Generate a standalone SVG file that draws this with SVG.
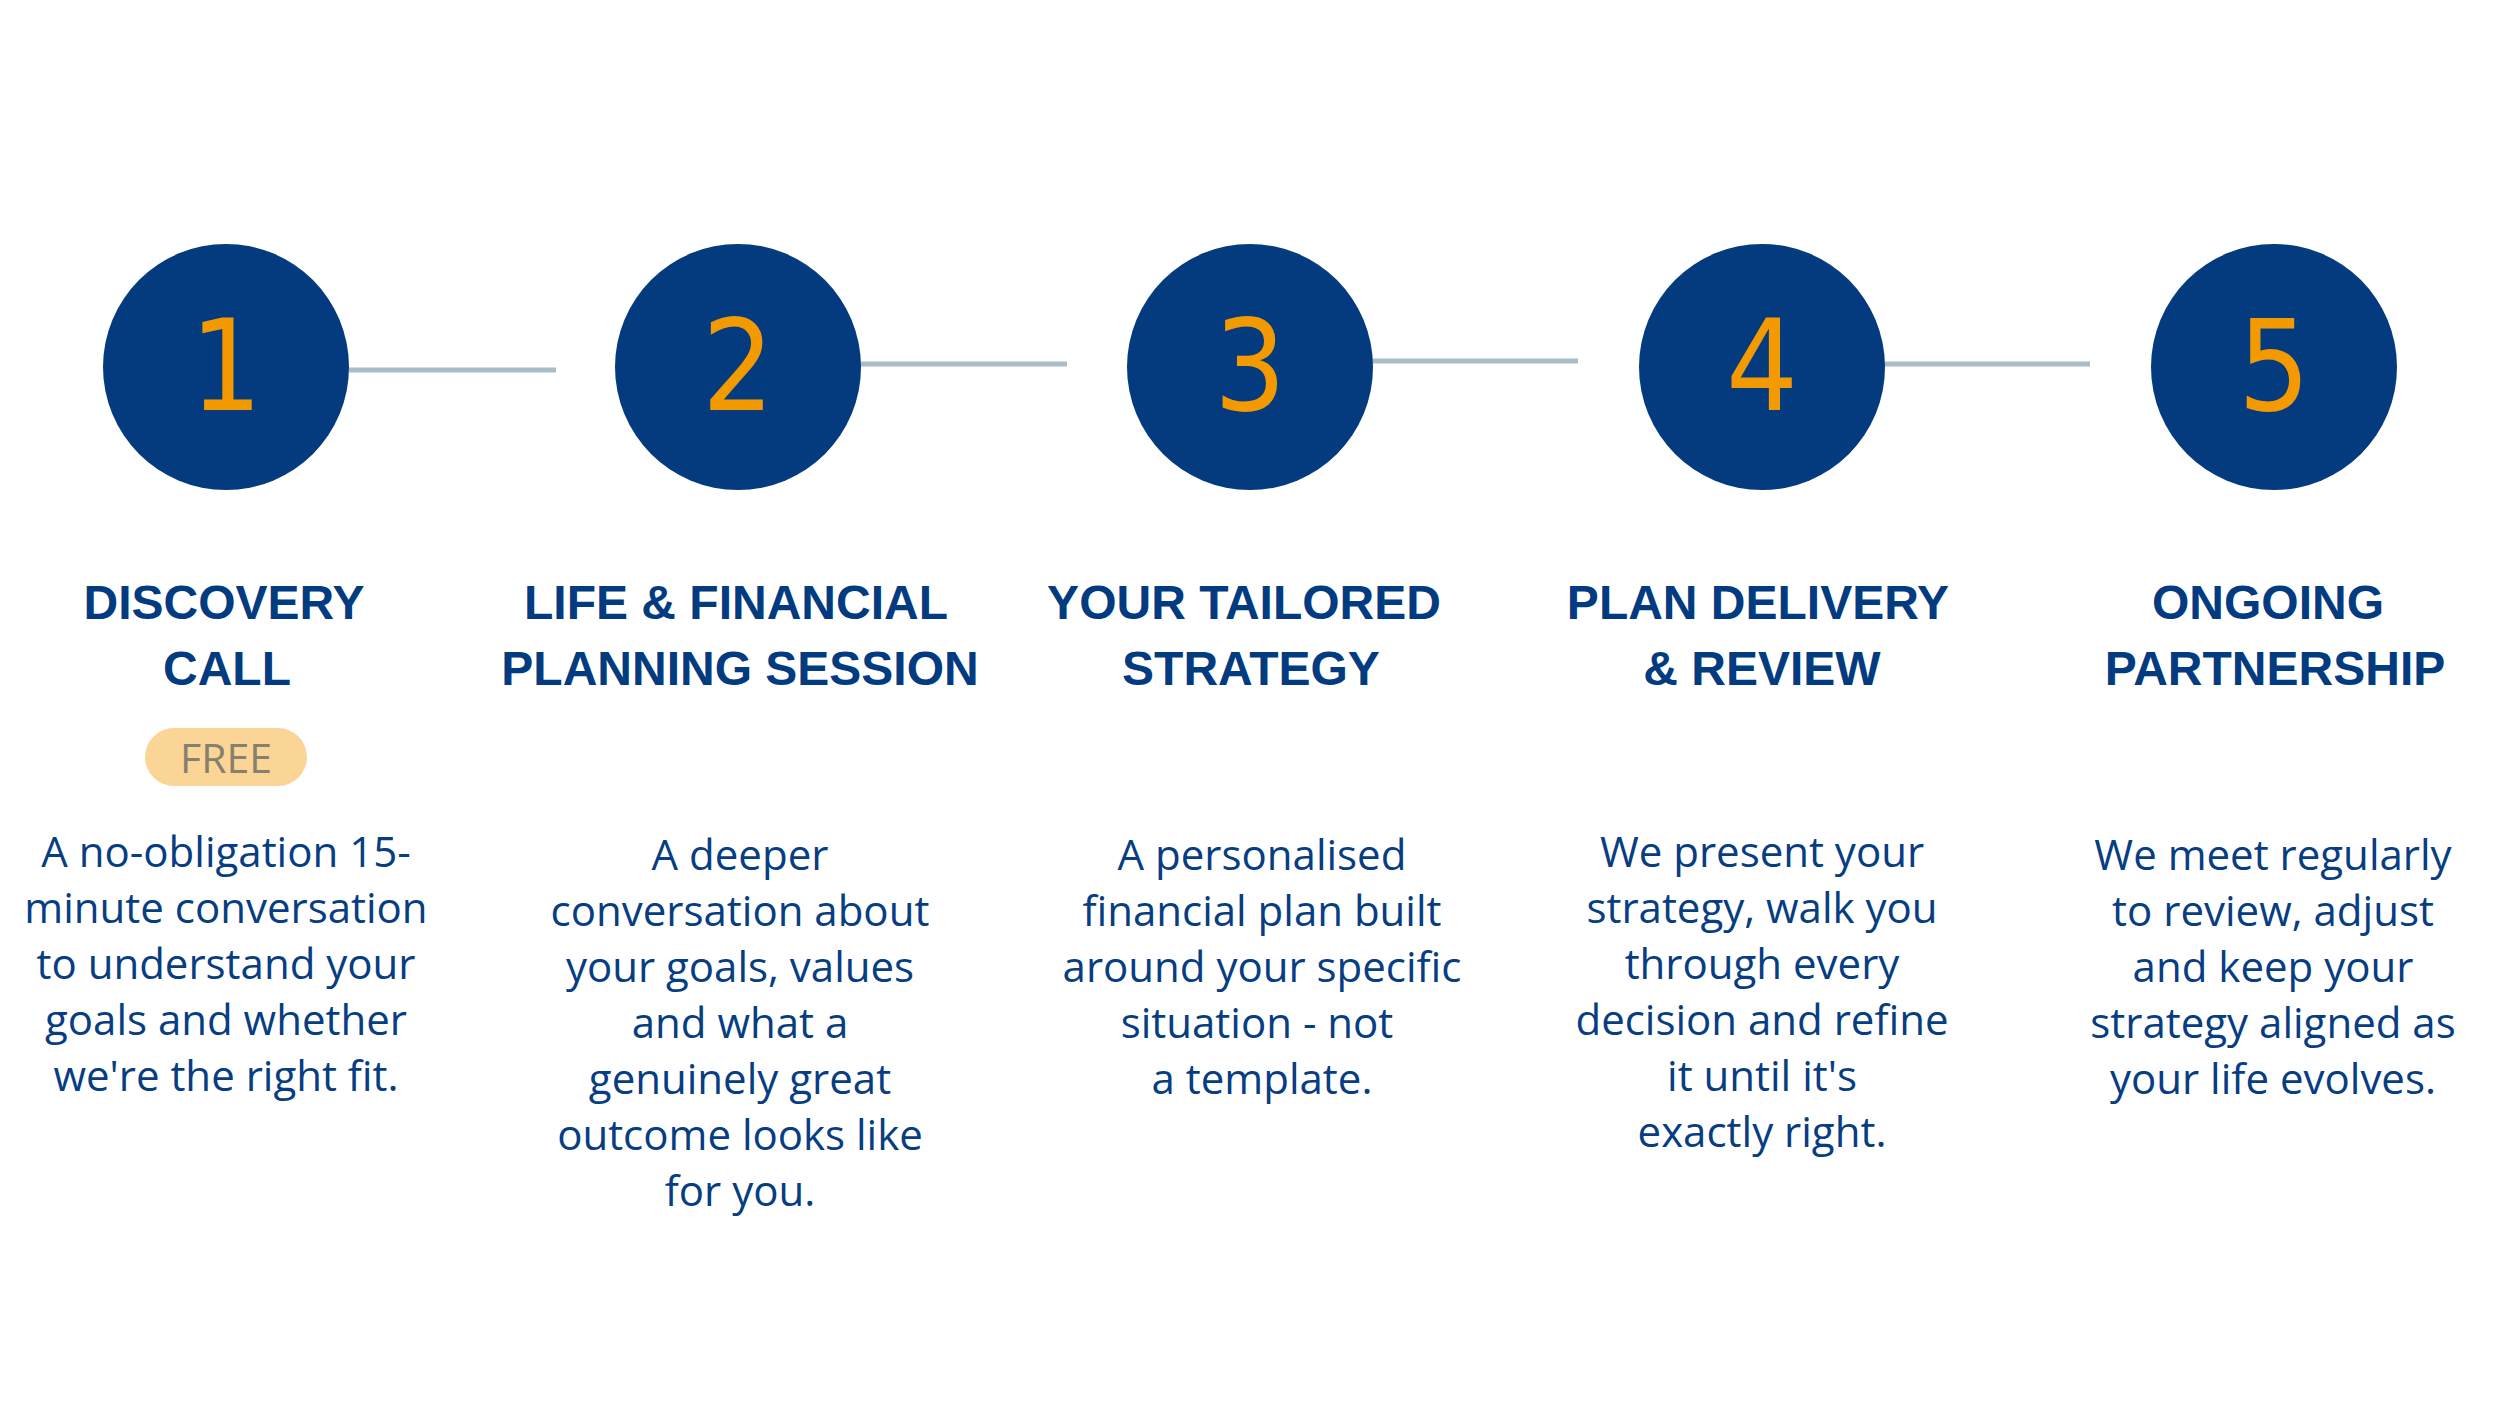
<svg xmlns="http://www.w3.org/2000/svg" width="2500" height="1406" viewBox="0 0 2500 1406">
  <style>
    .circle { fill: #033b7e; }
    .num { fill: #f39a00; font-family: "DejaVu Sans Condensed", "DejaVu Sans", "Liberation Sans", sans-serif; font-stretch: condensed; font-size: 126px; text-anchor: middle; }
    .title { fill: #033b80; font-family: "Liberation Sans", Arial, sans-serif; font-weight: bold; font-size: 48px; text-anchor: middle; }
    .body { fill: #073d82; font-family: "Open Sans", "Liberation Sans", sans-serif; font-size: 42px; text-anchor: middle; }
    .conn { stroke: #a9bdc6; stroke-width: 5; fill: none; }
    .pill { fill: #fad595; }
    .pilltext { fill: #87806f; font-family: "Open Sans", "Liberation Sans", sans-serif; font-size: 41px; text-anchor: middle; }
  </style>
  <rect width="2500" height="1406" fill="#ffffff"/>
  <g id="connectors">
    <line class="conn" x1="349" y1="370" x2="556" y2="370"/>
    <line class="conn" x1="860" y1="364" x2="1067" y2="364"/>
    <line class="conn" x1="1371" y1="361" x2="1578" y2="361"/>
    <line class="conn" x1="1883" y1="364" x2="2090" y2="364"/>
  </g>
  <g id="step1">
    <circle class="circle" cx="226" cy="367" r="123"/>
    <text class="num" x="226" y="410">1</text>
    <text class="title" x="224" y="619">DISCOVERY</text>
    <text class="title" x="227" y="685">CALL</text>
    <rect class="pill" x="145" y="728" width="162" height="58" rx="29"/>
    <text class="pilltext" x="226" y="773">FREE</text>
    <text class="body" x="226" y="867">A no-obligation 15-</text>
    <text class="body" x="226" y="923">minute conversation</text>
    <text class="body" x="226" y="979">to understand your</text>
    <text class="body" x="226" y="1035">goals and whether</text>
    <text class="body" x="226" y="1091">we're the right fit.</text>
  </g>
  <g id="step2">
    <circle class="circle" cx="738" cy="367" r="123"/>
    <text class="num" x="738" y="410">2</text>
    <text class="title" x="736" y="619">LIFE &amp; FINANCIAL</text>
    <text class="title" x="740" y="685">PLANNING SESSION</text>
    <text class="body" x="740" y="870">A deeper</text>
    <text class="body" x="740" y="926">conversation about</text>
    <text class="body" x="740" y="982">your goals, values</text>
    <text class="body" x="740" y="1038">and what a</text>
    <text class="body" x="740" y="1094">genuinely great</text>
    <text class="body" x="740" y="1150">outcome looks like</text>
    <text class="body" x="740" y="1206">for you.</text>
  </g>
  <g id="step3">
    <circle class="circle" cx="1250" cy="367" r="123"/>
    <text class="num" x="1250" y="410">3</text>
    <text class="title" x="1244" y="619">YOUR TAILORED</text>
    <text class="title" x="1251" y="685">STRATEGY</text>
    <text class="body" x="1262" y="870">A personalised</text>
    <text class="body" x="1262" y="926">financial plan built</text>
    <text class="body" x="1262" y="982">around your specific</text>
    <text class="body" x="1257" y="1038">situation - not</text>
    <text class="body" x="1262" y="1094">a template.</text>
  </g>
  <g id="step4">
    <circle class="circle" cx="1762" cy="367" r="123"/>
    <text class="num" x="1762" y="410">4</text>
    <text class="title" x="1758" y="619">PLAN DELIVERY</text>
    <text class="title" x="1762" y="685">&amp; REVIEW</text>
    <text class="body" x="1762" y="867">We present your</text>
    <text class="body" x="1762" y="923">strategy, walk you</text>
    <text class="body" x="1762" y="979">through every</text>
    <text class="body" x="1762" y="1035">decision and refine</text>
    <text class="body" x="1762" y="1091">it until it's</text>
    <text class="body" x="1762" y="1147">exactly right.</text>
  </g>
  <g id="step5">
    <circle class="circle" cx="2274" cy="367" r="123"/>
    <text class="num" x="2274" y="410">5</text>
    <text class="title" x="2268" y="619">ONGOING</text>
    <text class="title" x="2275" y="685">PARTNERSHIP</text>
    <text class="body" x="2273" y="870">We meet regularly</text>
    <text class="body" x="2273" y="926">to review, adjust</text>
    <text class="body" x="2273" y="982">and keep your</text>
    <text class="body" x="2273" y="1038">strategy aligned as</text>
    <text class="body" x="2273" y="1094">your life evolves.</text>
  </g>
</svg>
